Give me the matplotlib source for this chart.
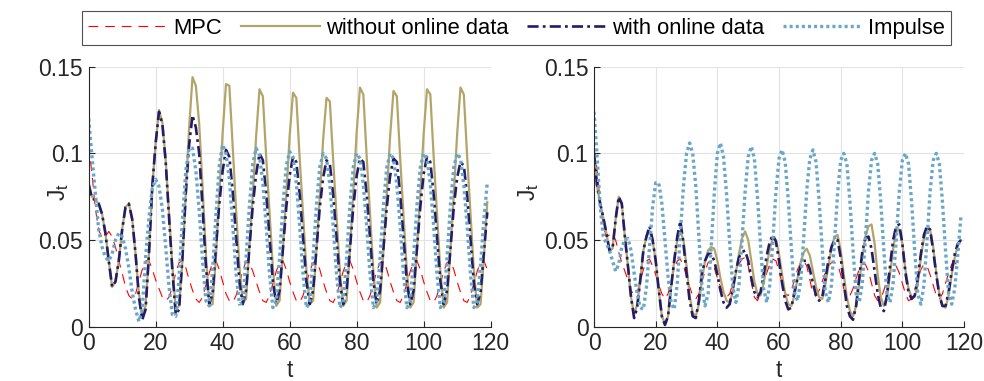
import numpy as np
import matplotlib
matplotlib.use("Agg")
import matplotlib.pyplot as plt

plt.rcParams['font.family'] = ['Liberation Sans', 'DejaVu Sans']
plt.rcParams['lines.scale_dashes'] = False

# time steps
t = list(range(120))

# ---- left panel ----
mpc_left = [0.105, 0.088, 0.068, 0.056, 0.051, 0.052, 0.055, 0.052, 0.046, 0.038,
            0.031, 0.023, 0.018, 0.016, 0.019, 0.026, 0.033, 0.038, 0.038, 0.033,
            0.027, 0.022, 0.017, 0.015, 0.017, 0.023, 0.031, 0.037, 0.038, 0.034,
            0.027, 0.021, 0.016, 0.014, 0.017, 0.024, 0.031, 0.037, 0.038, 0.033,
            0.026, 0.019, 0.015, 0.014, 0.018, 0.025, 0.032, 0.038, 0.037, 0.032,
            0.026, 0.020, 0.015, 0.014, 0.018, 0.025, 0.032, 0.037, 0.038, 0.033,
            0.026, 0.020, 0.015, 0.014, 0.018, 0.025, 0.032, 0.037, 0.038, 0.033,
            0.026, 0.020, 0.015, 0.014, 0.018, 0.025, 0.032, 0.037, 0.038, 0.033,
            0.026, 0.020, 0.015, 0.014, 0.018, 0.025, 0.032, 0.037, 0.038, 0.033,
            0.026, 0.020, 0.015, 0.014, 0.018, 0.025, 0.032, 0.037, 0.038, 0.033,
            0.026, 0.020, 0.015, 0.014, 0.018, 0.025, 0.032, 0.037, 0.038, 0.033,
            0.026, 0.020, 0.015, 0.014, 0.018, 0.025, 0.032, 0.037, 0.038, 0.033]

without_left = [0.083, 0.075, 0.073, 0.071, 0.065, 0.054, 0.038, 0.023, 0.026, 0.038,
                0.056, 0.069, 0.071, 0.062, 0.042, 0.019, 0.007, 0.012, 0.042, 0.081,
                0.106, 0.125, 0.118, 0.096, 0.065, 0.035, 0.010, 0.012, 0.038, 0.077,
                0.115, 0.144, 0.139, 0.117, 0.081, 0.042, 0.012, 0.013, 0.040, 0.077,
                0.112, 0.140, 0.139, 0.104, 0.068, 0.035, 0.014, 0.016, 0.046, 0.076,
                0.110, 0.137, 0.133, 0.098, 0.066, 0.034, 0.012, 0.015, 0.045, 0.076,
                0.110, 0.135, 0.132, 0.097, 0.065, 0.033, 0.013, 0.015, 0.044, 0.075,
                0.108, 0.132, 0.130, 0.096, 0.064, 0.032, 0.012, 0.015, 0.044, 0.077,
                0.112, 0.138, 0.134, 0.098, 0.065, 0.032, 0.011, 0.014, 0.044, 0.076,
                0.110, 0.136, 0.133, 0.097, 0.064, 0.032, 0.011, 0.014, 0.044, 0.076,
                0.111, 0.137, 0.134, 0.098, 0.065, 0.032, 0.011, 0.014, 0.044, 0.076,
                0.111, 0.138, 0.134, 0.098, 0.065, 0.032, 0.011, 0.013, 0.040, 0.072]

with_left = [0.082, 0.074, 0.073, 0.071, 0.065, 0.054, 0.038, 0.023, 0.026, 0.038,
             0.056, 0.069, 0.071, 0.062, 0.042, 0.017, 0.004, 0.010, 0.042, 0.081,
             0.106, 0.124, 0.117, 0.095, 0.063, 0.032, 0.007, 0.010, 0.040, 0.077,
             0.105, 0.122, 0.115, 0.100, 0.069, 0.035, 0.013, 0.019, 0.046, 0.071,
             0.090, 0.102, 0.098, 0.078, 0.052, 0.026, 0.013, 0.021, 0.046, 0.070,
             0.088, 0.100, 0.096, 0.077, 0.051, 0.026, 0.013, 0.021, 0.045, 0.069,
             0.087, 0.098, 0.095, 0.076, 0.051, 0.026, 0.013, 0.021, 0.045, 0.069,
             0.086, 0.096, 0.094, 0.076, 0.051, 0.026, 0.013, 0.021, 0.045, 0.069,
             0.087, 0.097, 0.095, 0.076, 0.051, 0.026, 0.013, 0.021, 0.045, 0.069,
             0.087, 0.097, 0.095, 0.076, 0.051, 0.026, 0.013, 0.021, 0.045, 0.069,
             0.088, 0.098, 0.095, 0.076, 0.051, 0.026, 0.013, 0.021, 0.045, 0.069,
             0.086, 0.095, 0.093, 0.075, 0.050, 0.025, 0.013, 0.020, 0.043, 0.066]

impulse_left = [0.120, 0.098, 0.077, 0.056, 0.046, 0.040, 0.038, 0.042, 0.050, 0.054,
                0.052, 0.045, 0.034, 0.020, 0.010, 0.003, 0.010, 0.040, 0.063, 0.080,
                0.085, 0.081, 0.068, 0.046, 0.023, 0.007, 0.006, 0.029, 0.062, 0.090,
                0.103, 0.103, 0.090, 0.067, 0.038, 0.015, 0.012, 0.032, 0.065, 0.093,
                0.105, 0.100, 0.085, 0.059, 0.031, 0.013, 0.014, 0.040, 0.070, 0.094,
                0.103, 0.099, 0.083, 0.058, 0.030, 0.011, 0.014, 0.040, 0.070, 0.093,
                0.101, 0.098, 0.083, 0.058, 0.030, 0.011, 0.014, 0.040, 0.070, 0.092,
                0.100, 0.097, 0.082, 0.058, 0.030, 0.011, 0.014, 0.040, 0.070, 0.092,
                0.100, 0.097, 0.082, 0.058, 0.030, 0.011, 0.014, 0.040, 0.070, 0.092,
                0.100, 0.097, 0.082, 0.058, 0.030, 0.011, 0.014, 0.040, 0.070, 0.092,
                0.100, 0.097, 0.082, 0.058, 0.030, 0.011, 0.014, 0.040, 0.070, 0.092,
                0.100, 0.097, 0.082, 0.058, 0.030, 0.011, 0.014, 0.036, 0.062, 0.083]

# ---- right panel ----
mpc_right = [0.103, 0.090, 0.072, 0.058, 0.052, 0.053, 0.054, 0.050, 0.043, 0.037,
             0.032, 0.027, 0.021, 0.018, 0.020, 0.026, 0.033, 0.038, 0.039, 0.035,
             0.030, 0.024, 0.019, 0.016, 0.019, 0.026, 0.033, 0.038, 0.039, 0.035,
             0.029, 0.023, 0.018, 0.016, 0.019, 0.026, 0.032, 0.037, 0.038, 0.034,
             0.028, 0.023, 0.019, 0.017, 0.019, 0.025, 0.031, 0.036, 0.039, 0.040,
             0.035, 0.026, 0.017, 0.015, 0.019, 0.025, 0.031, 0.036, 0.039, 0.038,
             0.032, 0.025, 0.019, 0.018, 0.021, 0.027, 0.033, 0.037, 0.038, 0.035,
             0.027, 0.019, 0.018, 0.021, 0.026, 0.031, 0.035, 0.037, 0.037, 0.036,
             0.030, 0.022, 0.017, 0.018, 0.022, 0.028, 0.033, 0.036, 0.036, 0.032,
             0.025, 0.018, 0.015, 0.016, 0.021, 0.027, 0.032, 0.035, 0.035, 0.031,
             0.025, 0.019, 0.015, 0.016, 0.021, 0.027, 0.033, 0.036, 0.035, 0.030,
             0.024, 0.018, 0.016, 0.019, 0.025, 0.031, 0.036, 0.037, 0.035, 0.034]

without_right = [0.098, 0.081, 0.071, 0.063, 0.054, 0.044, 0.045, 0.062, 0.075, 0.071,
                 0.052, 0.035, 0.017, 0.007, 0.013, 0.027, 0.044, 0.052, 0.055, 0.050,
                 0.038, 0.021, 0.006, 0.002, 0.006, 0.023, 0.038, 0.050, 0.055, 0.050,
                 0.035, 0.018, 0.008, 0.006, 0.013, 0.027, 0.038, 0.044, 0.046, 0.045,
                 0.038, 0.028, 0.020, 0.015, 0.014, 0.020, 0.031, 0.042, 0.051, 0.055,
                 0.050, 0.038, 0.026, 0.019, 0.018, 0.025, 0.035, 0.045, 0.051, 0.050,
                 0.042, 0.030, 0.019, 0.013, 0.012, 0.018, 0.028, 0.037, 0.043, 0.045,
                 0.041, 0.032, 0.023, 0.017, 0.016, 0.024, 0.035, 0.045, 0.052, 0.053,
                 0.044, 0.030, 0.017, 0.009, 0.006, 0.012, 0.025, 0.040, 0.052, 0.058,
                 0.059, 0.048, 0.030, 0.017, 0.012, 0.016, 0.030, 0.045, 0.055, 0.056,
                 0.048, 0.033, 0.022, 0.017, 0.017, 0.025, 0.040, 0.051, 0.056, 0.056,
                 0.046, 0.031, 0.019, 0.012, 0.011, 0.018, 0.030, 0.040, 0.047, 0.050]

with_right = [0.100, 0.081, 0.071, 0.063, 0.054, 0.044, 0.045, 0.062, 0.075, 0.071,
              0.052, 0.035, 0.017, 0.005, 0.011, 0.027, 0.044, 0.052, 0.058, 0.050,
              0.038, 0.021, 0.006, 0.001, 0.006, 0.023, 0.038, 0.052, 0.061, 0.048,
              0.031, 0.015, 0.006, 0.005, 0.015, 0.031, 0.038, 0.042, 0.042, 0.038,
              0.030, 0.021, 0.014, 0.011, 0.013, 0.022, 0.032, 0.040, 0.043, 0.044,
              0.038, 0.028, 0.020, 0.017, 0.020, 0.030, 0.041, 0.049, 0.053, 0.049,
              0.038, 0.025, 0.015, 0.010, 0.011, 0.020, 0.028, 0.035, 0.038, 0.038,
              0.033, 0.025, 0.018, 0.015, 0.017, 0.027, 0.038, 0.046, 0.050, 0.050,
              0.040, 0.025, 0.012, 0.006, 0.004, 0.012, 0.028, 0.043, 0.051, 0.052,
              0.045, 0.032, 0.019, 0.011, 0.009, 0.018, 0.035, 0.050, 0.058, 0.059,
              0.048, 0.031, 0.020, 0.016, 0.018, 0.028, 0.042, 0.053, 0.058, 0.056,
              0.044, 0.030, 0.018, 0.012, 0.012, 0.020, 0.032, 0.042, 0.048, 0.050]

impulse_right = [0.124, 0.098, 0.069, 0.052, 0.048, 0.044, 0.038, 0.032, 0.036, 0.046,
                 0.050, 0.051, 0.044, 0.031, 0.019, 0.011, 0.010, 0.023, 0.046, 0.069,
                 0.083, 0.083, 0.071, 0.050, 0.029, 0.014, 0.010, 0.025, 0.054, 0.081,
                 0.100, 0.106, 0.100, 0.081, 0.052, 0.023, 0.012, 0.019, 0.046, 0.077,
                 0.100, 0.106, 0.098, 0.076, 0.048, 0.023, 0.014, 0.024, 0.050, 0.078,
                 0.098, 0.104, 0.097, 0.075, 0.047, 0.022, 0.014, 0.024, 0.050, 0.078,
                 0.097, 0.102, 0.095, 0.073, 0.045, 0.020, 0.015, 0.026, 0.051, 0.079,
                 0.097, 0.102, 0.095, 0.073, 0.045, 0.020, 0.014, 0.024, 0.049, 0.077,
                 0.096, 0.100, 0.094, 0.072, 0.044, 0.019, 0.014, 0.025, 0.050, 0.078,
                 0.096, 0.100, 0.094, 0.072, 0.044, 0.019, 0.014, 0.025, 0.050, 0.078,
                 0.096, 0.100, 0.094, 0.072, 0.044, 0.019, 0.013, 0.024, 0.050, 0.078,
                 0.096, 0.100, 0.094, 0.072, 0.044, 0.019, 0.013, 0.022, 0.042, 0.064]

labels = ["MPC", "without online data", "with online data", "Impulse"]
xticks = [0, 20, 40, 60, 80, 100, 120]
yticks = [0, 0.05, 0.1, 0.15]
yticklabels = ["0", "0.05", "0.1", "0.15"]

c_mpc = "#FF0000"
c_without = "#B3A469"
c_with = "#231C69"
c_impulse = "#6AA6C8"
c_axis = "#262626"
fs = 16.5

fig = plt.figure(figsize=(9.84, 3.81), dpi=100)
ax1 = fig.add_axes([0.0901, 0.1425, 0.4085, 0.6824])
ax2 = fig.add_axes([0.6037, 0.1425, 0.3760, 0.6824])


def draw(ax, mpc, without, with_, impulse, ylab_x):
    h1, = ax.plot(t, mpc, color=c_mpc, lw=0.8, ls=(0, (7, 5)))
    h2, = ax.plot(t, without, color=c_without, lw=1.6, ls="-")
    h3, = ax.plot(t, with_, color=c_with, lw=1.9, ls=(0, (8, 3, 2, 3)))
    h4, = ax.plot(t, impulse, color=c_impulse, lw=2.4, ls=(0, (2.2, 2.2)))
    ax.set_xlim(0, 120)
    ax.set_ylim(0, 0.15)
    ax.set_xticks(xticks)
    ax.set_yticks(yticks)
    ax.set_yticklabels(yticklabels)
    ax.grid(True, color="#E3E3E3", lw=0.8)
    ax.set_axisbelow(True)
    for s in ["top", "right"]:
        ax.spines[s].set_visible(False)
    for s in ["left", "bottom"]:
        ax.spines[s].set_color(c_axis)
        ax.spines[s].set_linewidth(0.8)
    ax.tick_params(direction="in", length=4, width=0.8, colors=c_axis,
                   labelsize=fs, pad=4)
    ax.set_xlabel("t", fontsize=fs, color=c_axis)
    ax.xaxis.set_label_coords(0.5, -0.125)
    ax.set_ylabel("J$_\\mathregular{t}$", fontsize=fs, color=c_axis)
    ax.yaxis.set_label_coords(ylab_x, 0.52)
    return [h1, h2, h3, h4]


handles = draw(ax1, mpc_left, without_left, with_left, impulse_left, -0.045)
draw(ax2, mpc_right, without_right, with_right, impulse_right, -0.143)

leg = fig.legend(handles, labels, ncol=4, loc="center",
                 bbox_to_anchor=(0.525, 0.9265), fontsize=15.8,
                 frameon=True, fancybox=False, edgecolor=c_axis,
                 handlelength=3.6, handletextpad=0.28, columnspacing=0.85,
                 borderpad=0.28, borderaxespad=0)
leg.get_frame().set_linewidth(0.8)

fig.savefig("out.png", dpi=100)
